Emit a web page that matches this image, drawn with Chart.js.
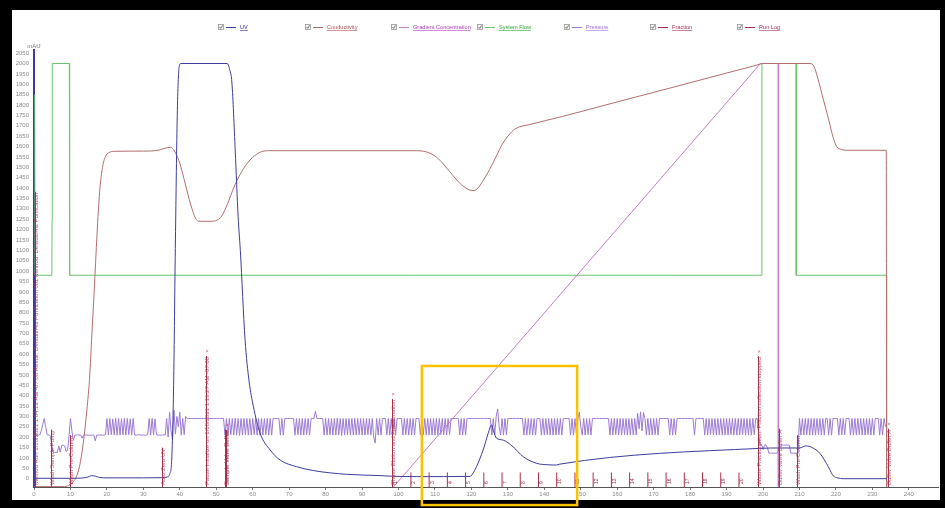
<!DOCTYPE html>
<html>
<head>
<meta charset="utf-8">
<script src="https://cdn.jsdelivr.net/npm/chart.js@4.4.1/dist/chart.umd.min.js"></script>
<style>
  html, body { margin: 0; padding: 0; background: #000; overflow: hidden; }
  #wrap { position: relative; width: 945px; height: 508px; }
  #chrom { display: block; width: 945px; height: 508px; }
</style>
</head>
<body>
<div id="wrap"><canvas id="chrom" width="945" height="508"></canvas></div>
<script>
// ---- axis ticks ----
const xTicks = [0,10,20,30,40,50,60,70,80,90,100,110,120,130,140,150,160,170,180,190,200,210,220,230,240];
const yTicks = [0,50,100,150,200,250,300,350,400,450,500,550,600,650,700,750,800,850,900,950,1000,
  1050,1100,1150,1200,1250,1300,1350,1400,1450,1500,1550,1600,1650,1700,1750,1800,1850,1900,1950,2000,2050];

// ---- curves: [time (min), value] ----
const uvCurve = [[0,2],[5,2],[10,2],[13,3],[14.8,8],[15.8,15],[16.8,12],[18,6],[20,4],[30,4],[35,5],[36.5,8],
  [37.3,25],[37.8,100],[38.3,450],[38.8,1150],[39.3,1750],[39.8,1980],[40.3,2000],[53,2000],[53.6,1975],
  [54.3,1906],[55.2,1582],[56,1262],[56.6,1100],[57.9,670],[59,470],[60.2,347],[62,220],[64.8,138],[67.5,90],
  [72,58],[76.7,39],[85.8,21],[94.9,15],[98,12],[105,10],[119.6,11],[120.5,28],[121.4,58],[123.2,138],
  [124.6,218],[125.5,259],[126,232],[126.9,195],[128.7,186],[131.4,154],[134.2,106],[137.9,74],[141,67],
  [143.3,66],[144.2,70],[199,146],[205,148],[210,148],[211.8,158],[213.5,150],[215.6,122],[217,85],[217.9,58],
  [218.7,30],[219.3,13],[220.5,4],[222,0],[234,0]];

const conductivityCurve = [[0,-38],[8,-38],[9.5,-33],[10.5,-20],[11.5,5],[12.5,60],[13.5,170],[14.5,330],
  [15.3,500],[15.8,670],[16.5,900],[17.3,1180],[18,1380],[18.8,1500],[19.6,1552],[20.5,1570],[22,1577],
  [30,1578],[34,1582],[36,1592],[37.5,1596],[38.3,1585],[38.8,1570],[40,1520],[41.5,1420],[43,1320],
  [44.3,1255],[45.2,1240],[49,1240],[50.5,1248],[51.5,1265],[53,1320],[55,1410],[57,1480],[59,1530],
  [61,1562],[62.5,1576],[65,1580],[105,1580],[108.6,1568],[111,1540],[114,1480],[117,1420],[119,1395],
  [120.4,1388],[121.5,1395],[123,1430],[125,1490],[127,1560],[128.5,1612],[130,1650],[132,1685],[136,1706],
  [145,1745],[160,1815],[175,1884],[190,1954],[198,1991],[199.3,1998],[200.5,2000],[212.9,2000],[214,1985],
  [215,1930],[216.5,1830],[218,1730],[219.3,1640],[220.2,1600],[221.5,1586],[223,1582],[233.8,1582],[233.9,-40]];

const gradientCurve = [[98.6,-40],[199.3,2000],[204.2,2000],[204.2,-40]];

const systemFlow = [[0.2,1850],[0.3,980],[4.9,980],[4.95,1240],[5.0,2000],[9.7,2000],[9.75,1520],[9.8,980],
  [199.7,980],[199.7,2000],[209.1,2000],[209.1,980],[233.9,980],[233.9,-40]];

// pressure, logged every 0.4 min from t = 0
const pressureStart = 0;
const pressureInterval = 0.4;
const pressureValues = [
  210,210,212,210,212,230,262,290,250,212,210,208,175,128,126,127,126,158,128,160,162,158,132,135,205,
  290,230,185,210,210,212,210,210,195,210,211,210,210,209,210,210,210,182,210,210,211,210,210,210,212,
  290,210,290,212,288,210,291,209,290,210,289,211,290,210,290,212,288,210,290,210,210,210,212,210,210,
  210,210,210,212,290,210,290,210,288,212,210,210,210,210,212,210,290,200,320,230,188,330,215,300,250,
  320,210,290,212,300,290,290,290,290,290,290,290,290,290,290,290,290,290,290,290,290,290,290,290,290,
  290,290,290,290,290,290,210,290,210,290,212,290,210,292,210,290,208,290,210,290,212,290,210,290,210,
  290,212,290,210,290,210,290,210,290,212,290,210,290,210,290,290,290,290,290,210,290,210,290,290,290,
  290,290,290,290,210,290,212,290,210,290,210,290,212,290,210,290,290,290,325,290,290,290,290,290,210,
  290,210,290,212,290,210,290,210,292,210,290,208,290,210,290,212,290,210,290,210,290,210,290,212,290,
  210,290,210,290,212,290,210,290,200,172,290,210,290,210,290,290,290,210,290,210,290,212,290,210,290,
  290,290,290,210,290,212,290,210,290,210,290,210,290,290,290,210,290,212,290,210,290,210,290,210,290,
  210,290,210,290,212,290,210,290,210,290,212,290,290,290,290,290,290,210,290,210,290,210,290,290,290,
  290,290,290,290,290,290,290,290,290,290,290,290,290,290,210,290,212,300,335,250,210,290,210,290,212,
  290,290,290,290,290,290,290,290,290,290,290,210,290,210,290,212,290,210,290,210,290,290,290,210,290,
  210,290,212,290,210,290,210,290,210,290,212,290,210,290,290,290,290,290,210,290,210,290,212,290,320,
  250,210,290,210,290,212,290,210,290,290,290,290,290,290,290,290,290,290,290,290,210,290,210,290,212,
  290,210,290,210,290,212,290,210,290,210,290,210,290,210,315,240,322,230,318,290,210,290,210,290,210,
  290,212,290,210,290,290,290,290,290,290,290,210,290,210,290,212,290,290,290,290,290,290,290,290,290,
  290,290,290,210,290,290,290,290,290,290,210,290,210,290,212,290,210,290,210,290,212,290,210,290,210,
  290,210,290,212,290,210,290,210,290,210,290,212,290,210,290,210,290,210,290,212,290,290,210,162,165,
  140,162,162,150,123,123,123,123,123,123,123,162,162,162,162,162,162,162,162,123,123,123,123,123,123,
  290,210,290,210,290,212,290,210,290,210,290,210,290,212,290,210,290,210,290,290,210,290,210,290,290,
  290,290,210,290,210,290,212,290,290,290,210,290,210,290,210,290,212,290,210,290,210,290,212,290,210,
  290,210,290,290,290,210,290,210,290,250
];

// fraction cuts
const fractionTimes = [98.4,103.4,108.4,113.4,118.4,123.4,128.4,133.4,138.4,143.4,148.4,153.4,158.4,
  163.4,168.4,173.4,178.4,183.4,188.4,193.4];
const fractionLabels = ['1','2','3','4','5','6','7','8','9','10','11','12','13','14','15','16','17','18','19','20'];

// run log events
const runLogTimes = [0.4,4.8,9.9,35.2,47.3,52.3,52.8,98.1,198.5,204.3,209.4,234.2];
const runLogTexts = [
  'Method Run 1/18/2021 1:04:12 AM -07:00 Result: Default/His Purification 001 Method: Default/His Purification',
  'Wash Sample Pump',
  'Wash Pre-Column',
  'Auto Zero UV',
  'Pause Initialize on 1/18/2021 1:13:27 AM -07:00',
  'Sample Valve Buffer',
  'Sample Valve Buffer',
  'Phase Elution and Fractionation',
  'Waste Fractionation: Fraction collection stopped',
  'Buffer Valve Buffer A',
  'Wash Pre-Column',
  'Buffer Valve Buffer A'
];
const runLogMarked = [false,false,false,false,true,false,true,true,true,false,false,true];

// highlighted region (time, value)
const highlightBox = { xFrom: 106.4, xTo: 149.0, yFrom: -127, yTo: 543 };

// ---- styling ----
const FONT = "'Liberation Sans Narrow', 'Liberation Sans', Arial, sans-serif";
const COLORS = {
  uv: '#3d3d9e', cond: '#b46e6e', grad: '#c27cc8', flow: '#6cc46c',
  pres: '#9d7bd6', frac: '#a8304c', log: '#a8304c'
};
const LEGEND_TEXT = ['#2b2bb0', '#b05050', '#b040c0', '#30a830', '#a070d0', '#b03050', '#a03060'];
const LEGEND_SLOTS = [221, 308, 394, 480, 567, 653, 740];
const AXIS_BOTTOM = -40;
const FRACTION_MARK_TOP = 30;

const toXY = arr => arr.map(p => ({ x: p[0], y: p[1] }));
const pressureData = pressureValues.map((v, i) => ({ x: pressureStart + i * pressureInterval, y: v }));
const fractionData = [];
fractionTimes.forEach(t => {
  fractionData.push({ x: t, y: AXIS_BOTTOM }, { x: t, y: FRACTION_MARK_TOP }, { x: t, y: null });
});

const line = (label, data, color, order, extra) => Object.assign({
  label, data, borderColor: color, backgroundColor: color, borderWidth: 1,
  pointRadius: 0, showLine: true, fill: false, order
}, extra || {});

// ---- plugins ----
const framePlugin = {
  id: 'frame',
  beforeDraw(chart) {
    const { ctx, width, height } = chart;
    ctx.save();
    ctx.fillStyle = '#000';
    ctx.fillRect(0, 0, width, height);
    ctx.fillStyle = '#fff';
    ctx.fillRect(12, 10, 928, 490);
    ctx.restore();
  }
};

const legendPlugin = {
  id: 'legendRow',
  afterDraw(chart) {
    const { ctx } = chart;
    const y = 27;
    ctx.save();
    ctx.font = '5.6px ' + FONT;
    ctx.textBaseline = 'middle';
    chart.data.datasets.forEach((ds, i) => {
      const bx = LEGEND_SLOTS[i];
      // checkbox
      ctx.fillStyle = '#f2f2f2';
      ctx.fillRect(bx - 2.5, y - 2.5, 5, 5);
      ctx.strokeStyle = '#9a9a9a';
      ctx.lineWidth = 0.8;
      ctx.strokeRect(bx - 2.5, y - 2.5, 5, 5);
      ctx.strokeStyle = '#555';
      ctx.beginPath();
      ctx.moveTo(bx - 1.5, y);
      ctx.lineTo(bx - 0.3, y + 1.4);
      ctx.lineTo(bx + 1.6, y - 1.6);
      ctx.stroke();
      // series swatch
      ctx.strokeStyle = ds.borderColor;
      ctx.lineWidth = 1;
      ctx.beginPath();
      ctx.moveTo(bx + 5, y + 0.5);
      ctx.lineTo(bx + 15, y + 0.5);
      ctx.stroke();
      // underlined label
      ctx.fillStyle = LEGEND_TEXT[i];
      ctx.fillText(ds.label, bx + 19, y);
      const w = ctx.measureText(ds.label).width;
      ctx.strokeStyle = LEGEND_TEXT[i];
      ctx.lineWidth = 0.6;
      ctx.beginPath();
      ctx.moveTo(bx + 19, y + 3.5);
      ctx.lineTo(bx + 19 + w, y + 3.5);
      ctx.stroke();
    });
    ctx.restore();
  }
};

const annotationPlugin = {
  id: 'annotations',
  afterDatasetsDraw(chart) {
    const { ctx, chartArea } = chart;
    const xs = chart.scales.x, ys = chart.scales.y;
    const base = chartArea.bottom;
    ctx.save();
    // run log markers with rotated text
    ctx.font = '6px ' + FONT;
    ctx.textBaseline = 'alphabetic';
    runLogTimes.forEach((t, i) => {
      const px = Math.round(xs.getPixelForValue(t)) + 0.5;
      const txt = runLogTexts[i];
      const w = ctx.measureText(txt).width;
      const top = base - 2 - w;
      ctx.strokeStyle = COLORS.log;
      ctx.lineWidth = 1;
      ctx.beginPath();
      ctx.moveTo(px, base);
      ctx.lineTo(px, top - 1);
      ctx.stroke();
      ctx.save();
      ctx.translate(px + 2.2, base - 2);
      ctx.rotate(-Math.PI / 2);
      ctx.fillStyle = 'rgba(168,48,76,0.85)';
      ctx.fillText(txt, 0, 0);
      if (runLogMarked[i]) ctx.fillText('\u00d7', w + 4, 0);
      ctx.restore();
    });
    // fraction numbers
    ctx.font = '5px ' + FONT;
    ctx.fillStyle = COLORS.frac;
    fractionTimes.forEach((t, i) => {
      const px = xs.getPixelForValue(t);
      ctx.save();
      ctx.translate(px + 4.5, ys.getPixelForValue(AXIS_BOTTOM) - 3);
      ctx.rotate(-Math.PI / 2);
      ctx.fillText(fractionLabels[i], 0, 0);
      ctx.restore();
    });
    ctx.restore();
  },
  afterDraw(chart) {
    const { ctx, chartArea } = chart;
    const xs = chart.scales.x, ys = chart.scales.y;
    ctx.save();
    // unit label above the value axis
    ctx.font = '6px ' + FONT;
    ctx.fillStyle = '#7a7a7a';
    ctx.textAlign = 'center';
    ctx.textBaseline = 'bottom';
    ctx.fillText('mAU', chartArea.left, chartArea.top - 1);
    // highlighted region
    const x1 = xs.getPixelForValue(highlightBox.xFrom);
    const x2 = xs.getPixelForValue(highlightBox.xTo);
    const y1 = ys.getPixelForValue(highlightBox.yTo);
    const y2 = ys.getPixelForValue(highlightBox.yFrom);
    ctx.strokeStyle = '#ffc000';
    ctx.lineWidth = 2.5;
    ctx.strokeRect(x1, y1, x2 - x1, y2 - y1);
    ctx.restore();
  }
};

// ---- chart ----
new Chart(document.getElementById('chrom'), {
  type: 'scatter',
  data: {
    datasets: [
      line('UV', toXY(uvCurve), COLORS.uv, 1, { cubicInterpolationMode: 'monotone' }),
      line('Conductivity', toXY(conductivityCurve), COLORS.cond, 2, { cubicInterpolationMode: 'monotone' }),
      line('Gradient Concentration', toXY(gradientCurve), COLORS.grad, 3),
      line('System Flow', toXY(systemFlow), COLORS.flow, 4),
      line('Pressure', pressureData, COLORS.pres, 5),
      line('Fraction', fractionData, COLORS.frac, 6, { spanGaps: false }),
      line('Run Log', [], COLORS.log, 7)
    ]
  },
  options: {
    responsive: false,
    maintainAspectRatio: false,
    animation: false,
    devicePixelRatio: 1,
    events: [],
    layout: { padding: { left: 0, top: 50, right: 7, bottom: 0 } },
    plugins: { legend: { display: false }, tooltip: { enabled: false } },
    scales: {
      x: {
        type: 'linear', min: 0, max: 248,
        afterBuildTicks: s => { s.ticks = xTicks.map(v => ({ value: v })); },
        afterFit: s => { s.height = 21; },
        grid: { drawOnChartArea: false, drawTicks: true, tickLength: 3, color: '#777' },
        border: { display: true, color: '#555', width: 1 },
        ticks: { color: '#8a8a8a', font: { family: FONT, size: 6 }, padding: 1, maxRotation: 0,
                 autoSkip: false, callback: v => String(v) }
      },
      y: {
        type: 'linear', min: AXIS_BOTTOM, max: 2065,
        afterBuildTicks: s => { s.ticks = yTicks.map(v => ({ value: v })); },
        afterFit: s => { s.width = 34; },
        grid: { drawOnChartArea: false, drawTicks: false },
        border: { display: true, color: '#3a3aa6', width: 2 },
        ticks: { color: '#8a8a8a', font: { family: FONT, size: 6 }, padding: 5, autoSkip: false,
                 callback: v => String(v) }
      }
    }
  },
  plugins: [framePlugin, legendPlugin, annotationPlugin]
});
</script>
</body>
</html>
